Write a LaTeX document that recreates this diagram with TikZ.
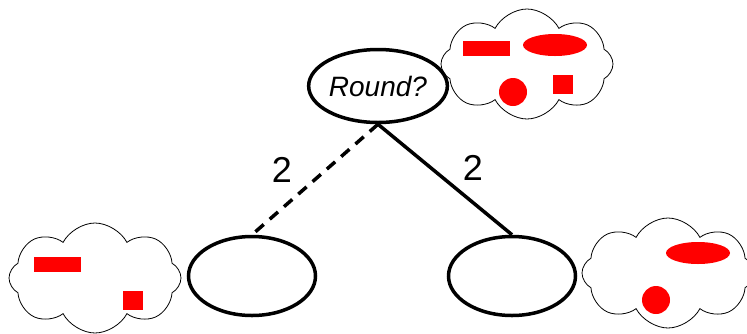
\documentclass[tikz,border=0pt]{standalone}
\usepackage{fontspec}
\setmainfont{Liberation Sans}
\usetikzlibrary{shapes.geometric, shapes.symbols}
\tikzstyle{question} = [ellipse, draw=black, line width=3.5pt, minimum width=117pt, minimum height=73pt, inner sep=0pt, font=\fontsize{28}{30}\selectfont\itshape]
\tikzstyle{leaf} = [ellipse, draw=black, line width=3.5pt, minimum width=127pt, minimum height=79pt]
\tikzstyle{thought} = [cloud, cloud puffs=8, cloud puff arc=125, aspect=1.6, draw=black, line width=0.8pt, minimum width=172pt, minimum height=110pt, inner sep=0pt]
\tikzstyle{bar} = [rectangle, fill=red, minimum width=47pt, minimum height=15pt, inner sep=0pt]
\tikzstyle{block} = [rectangle, fill=red, minimum width=20pt, minimum height=19pt, inner sep=0pt]
\tikzstyle{oval} = [ellipse, fill=red, minimum width=64pt, minimum height=22pt, inner sep=0pt]
\tikzstyle{dot} = [circle, fill=red, minimum size=28pt, inner sep=0pt]
\tikzstyle{branch} = [line width=3.5pt]
\tikzstyle{weight} = [font=\fontsize{36}{40}\selectfont]

\begin{document}
\begin{tikzpicture}[x=1pt, y=-1pt]
\useasboundingbox (0,0) rectangle (747,333);

% tree
\node (root) [question] at (378,86) {Round?};
\node (left) [leaf] at (252,276) {};
\node (right) [leaf] at (512,276) {};

% clouds
\node (cloudtop) [thought] at (527,64) {};
\node (cloudleft) [thought] at (95,278) {};
\node (cloudright) [thought] at (668,273) {};

% shapes in clouds
\node (topbar) [bar] at (486,48) {};
\node (topoval) [oval] at (555,45) {};
\node (topdot) [dot] at (513,92) {};
\node (topblock) [block] at (563,84) {};
\node (leftbar) [bar] at (57,264) {};
\node (leftblock) [block] at (133,300) {};
\node (rightoval) [oval] at (698,253) {};
\node (rightdot) [dot] at (656,300) {};

\draw [branch, dash pattern=on 11pt off 8pt] (root.south) -- node[weight, xshift=-33pt, yshift=10pt] {2} (left.north);
\draw [branch] (root.south) -- node[weight, xshift=28pt, yshift=12pt] {2} (right.north);

\end{tikzpicture}
\end{document}
